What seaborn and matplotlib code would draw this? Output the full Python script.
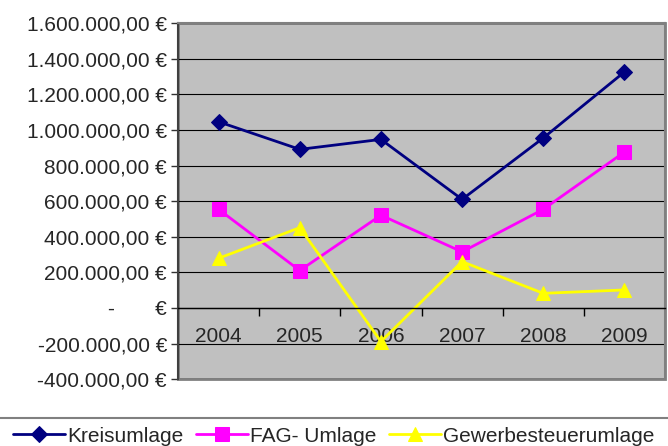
import numpy as np
import pandas as pd
import matplotlib
matplotlib.use("Agg")
import matplotlib.pyplot as plt
from matplotlib.lines import Line2D
from matplotlib.ticker import FuncFormatter, FixedLocator
import seaborn as sns

years = ["2004", "2005", "2006", "2007", "2008", "2009"]
kreisumlage = [1046000, 891000, 947000, 610000, 955000, 1326000]
fag_umlage = [554000, 210000, 521000, 315000, 554000, 876000]
gewerbesteuerumlage = [279000, 451000, -189000, 260000, 82000, 101000]

series_names = ["Kreisumlage", "FAG- Umlage", "Gewerbesteuerumlage"]
series_values = [kreisumlage, fag_umlage, gewerbesteuerumlage]
colors = ["#000080", "#FF00FF", "#FFFF00"]
markers = ["D", "s", "^"]
msizes = [8, 10, 10]

sns.set_style("white")
plt.rcParams["font.family"] = ["Liberation Sans", "DejaVu Sans"]
FS = 15

fig = plt.figure(figsize=(6.68, 4.46), dpi=100)
ax = fig.add_axes([0.2665, 0.150, 0.729, 0.798])
ax.set_facecolor("#C0C0C0")

for name, vals, c, m, ms in zip(series_names, series_values, colors, markers, msizes):
    df = pd.DataFrame({"Jahr": years, "Betrag": vals})
    sns.lineplot(data=df, x="Jahr", y="Betrag", ax=ax, color=c, marker=m,
                 markersize=ms, markeredgecolor=c, linewidth=2, label=name, sort=False)

ax.set_xlim(-0.5, len(years) - 0.5)
ax.set_ylim(-400000, 1600000)
ax.set_yticks(np.arange(-400000, 1600001, 200000))
ax.yaxis.grid(True, color="black", linewidth=0.8)
ax.set_axisbelow(True)

def euro(v, pos):
    if abs(v) < 1:
        return "-       €"
    s = f"{v:,.2f}".replace(",", "X").replace(".", ",").replace("X", ".")
    return s + " €"

ax.yaxis.set_major_formatter(FuncFormatter(euro))
ax.tick_params(axis="y", labelsize=FS, length=5, width=1, color="#333333", pad=3, direction="out", left=True)

# x axis at zero, ticks between categories
ax.spines["bottom"].set_position(("data", 0))
ax.spines["bottom"].set_color("black")
ax.spines["bottom"].set_linewidth(1)
ax.xaxis.set_minor_locator(FixedLocator(np.arange(0.5, len(years) - 1, 1.0)))
ax.tick_params(axis="x", which="minor", length=6, width=1, color="black", direction="out", bottom=True)
ax.tick_params(axis="x", which="major", length=0, pad=14, labelsize=FS)
ax.set_xlabel("")
ax.set_ylabel("")

for side in ["top", "right"]:
    ax.spines[side].set_color("#808080")
    ax.spines[side].set_linewidth(1.5)
ax.spines["left"].set_color("#404040")
ax.spines["left"].set_linewidth(1.5)
ax.patch.set_edgecolor("#808080")
ax.patch.set_linewidth(2)

ax.legend_.remove()
handles, labels = ax.get_legend_handles_labels()
fig.legend(handles, labels, loc="center", bbox_to_anchor=(0.5, 0.022), ncol=3,
           frameon=False, fontsize=FS, handlelength=2.5, handletextpad=0.1,
           columnspacing=0.6, borderaxespad=0, borderpad=0)

fig.add_artist(Line2D([0, 1], [1 - 418 / 446, 1 - 418 / 446], transform=fig.transFigure,
                      color="#808080", linewidth=1.5))

fig.savefig("out.png", dpi=100)
